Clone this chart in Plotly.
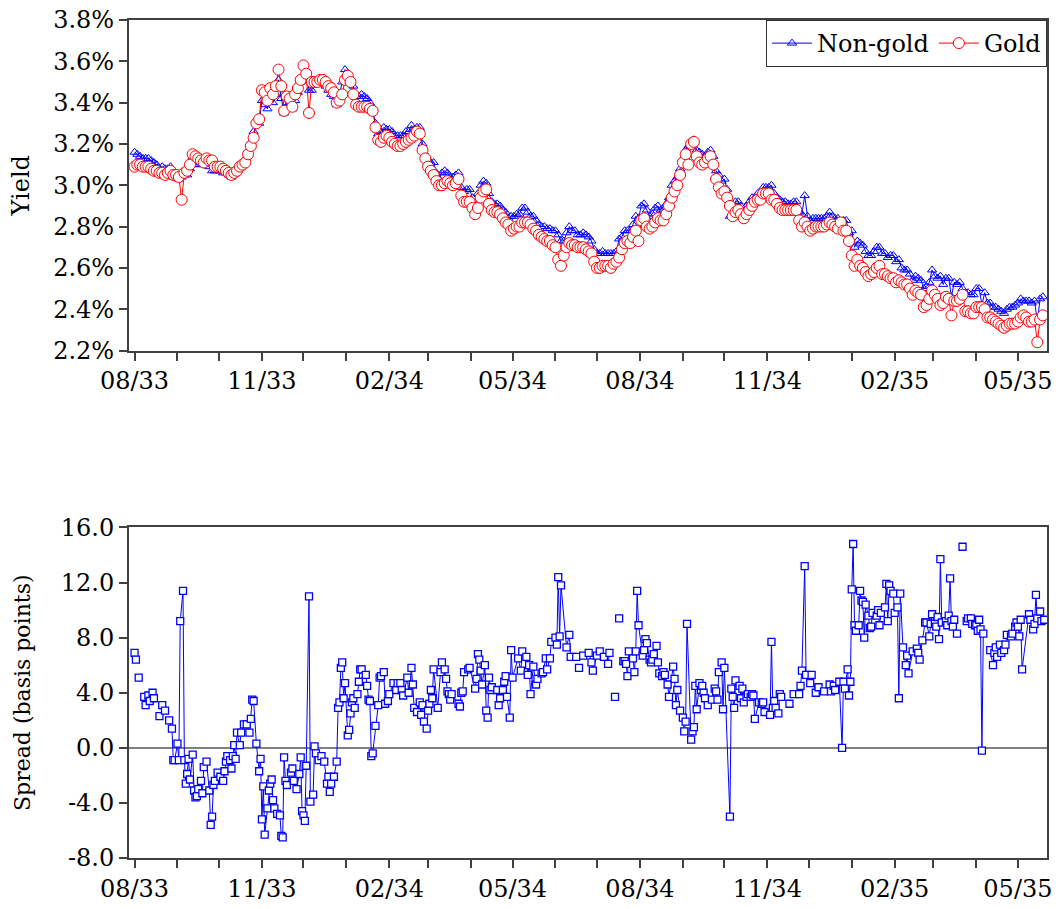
import pandas as pd
import plotly.graph_objects as go

# ---------------- data ----------------
BASE_DATE = "1933-08-01"   # day 0

# top panel: yields (%), sampled every second day since 1 Aug 1933
top_day = list(range(0, 657, 2))

gold_yield = [
    3.09, 3.10, 3.10, 3.09, 3.09, 3.09, 3.08, 3.07, 3.07, 3.06,
    3.06, 3.05, 3.06, 3.07, 3.05, 3.05, 3.04, 2.93, 3.06, 3.07,
    3.10, 3.15, 3.14, 3.13, 3.12, 3.11, 3.13, 3.12, 3.12, 3.09,
    3.09, 3.09, 3.08, 3.07, 3.06, 3.05, 3.06, 3.07, 3.09, 3.10,
    3.11, 3.15, 3.19, 3.23, 3.30, 3.32, 3.46, 3.45, 3.41, 3.47,
    3.44, 3.48, 3.56, 3.48, 3.36, 3.43, 3.42, 3.38, 3.44, 3.47,
    3.51, 3.58, 3.54, 3.35, 3.50, 3.50, 3.50, 3.51, 3.51, 3.50,
    3.48, 3.47, 3.45, 3.40, 3.41, 3.44, 3.51, 3.53, 3.50, 3.44,
    3.39, 3.38, 3.38, 3.38, 3.38, 3.37, 3.36, 3.28, 3.22, 3.21,
    3.23, 3.24, 3.23, 3.21, 3.20, 3.19, 3.19, 3.20, 3.21, 3.22,
    3.23, 3.24, 3.26, 3.25, 3.17, 3.13, 3.09, 3.07, 3.05, 3.02,
    3.00, 3.00, 3.01, 3.02, 3.01, 3.00, 3.01, 3.03, 2.95, 2.92,
    2.92, 2.92, 2.89, 2.86, 2.89, 2.94, 2.97, 2.98, 2.91, 2.88,
    2.87, 2.87, 2.86, 2.84, 2.82, 2.81, 2.78, 2.79, 2.80, 2.80,
    2.82, 2.82, 2.82, 2.81, 2.79, 2.78, 2.76, 2.75, 2.74, 2.73,
    2.73, 2.71, 2.70, 2.64, 2.61, 2.66, 2.70, 2.72, 2.71, 2.71,
    2.70, 2.70, 2.70, 2.69, 2.68, 2.67, 2.63, 2.60, 2.60, 2.61,
    2.61, 2.61, 2.60, 2.62, 2.63, 2.65, 2.69, 2.72, 2.73, 2.72,
    2.75, 2.78, 2.73, 2.83, 2.84, 2.80, 2.79, 2.80, 2.82, 2.84,
    2.83, 2.83, 2.86, 2.90, 2.94, 2.97, 3.00, 3.05, 3.11, 3.15,
    3.10, 3.20, 3.21, 3.14, 3.11, 3.10, 3.11, 3.13, 3.14, 3.10,
    3.03, 2.99, 2.96, 2.97, 2.94, 2.90, 2.85, 2.87, 2.88, 2.86,
    2.84, 2.86, 2.88, 2.90, 2.92, 2.93, 2.93, 2.96, 2.96, 2.96,
    2.93, 2.93, 2.91, 2.89, 2.88, 2.88, 2.88, 2.88, 2.88, 2.88,
    2.83, 2.80, 2.82, 2.80, 2.78, 2.79, 2.80, 2.80, 2.80, 2.80,
    2.81, 2.82, 2.81, 2.80, 2.79, 2.82, 2.78, 2.78, 2.73, 2.66,
    2.61, 2.64, 2.61, 2.60, 2.58, 2.56, 2.57, 2.58, 2.60, 2.61,
    2.57, 2.57, 2.56, 2.55, 2.55, 2.53, 2.54, 2.53, 2.52, 2.52,
    2.50, 2.47, 2.49, 2.48, 2.47, 2.41, 2.42, 2.45, 2.49, 2.47,
    2.45, 2.42, 2.43, 2.46, 2.45, 2.37, 2.44, 2.44, 2.45, 2.47,
    2.39, 2.39, 2.38, 2.38, 2.41, 2.41, 2.41, 2.40, 2.36, 2.36,
    2.35, 2.34, 2.33, 2.32, 2.31, 2.32, 2.33, 2.33, 2.33, 2.34,
    2.36, 2.37, 2.36, 2.34, 2.34, 2.35, 2.24, 2.35, 2.37]

nongold_yield = [
    3.16, 3.15, 3.14, 3.13, 3.13, 3.13, 3.12, 3.11, 3.10, 3.08,
    3.09, 3.08, 3.08, 3.09, 3.04, 3.05, 3.03, 3.04, 3.05, 3.05,
    3.08, 3.14, 3.10, 3.10, 3.10, 3.10, 3.12, 3.09, 3.07, 3.07,
    3.07, 3.07, 3.06, 3.06, 3.05, 3.04, 3.06, 3.08, 3.09, 3.11,
    3.13, 3.16, 3.21, 3.26, 3.30, 3.30, 3.41, 3.39, 3.37, 3.44,
    3.40, 3.44, 3.51, 3.42, 3.35, 3.40, 3.40, 3.37, 3.41, 3.45,
    3.50, 3.53, 3.53, 3.46, 3.46, 3.50, 3.49, 3.50, 3.50, 3.48,
    3.46, 3.44, 3.43, 3.39, 3.44, 3.50, 3.56, 3.54, 3.52, 3.48,
    3.43, 3.43, 3.44, 3.43, 3.42, 3.40, 3.36, 3.30, 3.25, 3.26,
    3.28, 3.27, 3.27, 3.26, 3.24, 3.24, 3.24, 3.24, 3.26, 3.26,
    3.29, 3.27, 3.28, 3.28, 3.20, 3.15, 3.12, 3.11, 3.11, 3.06,
    3.03, 3.06, 3.07, 3.06, 3.04, 3.04, 3.05, 3.06, 2.99, 2.97,
    2.98, 2.98, 2.94, 2.90, 2.96, 3.00, 3.02, 3.01, 2.96, 2.92,
    2.91, 2.91, 2.90, 2.88, 2.87, 2.84, 2.85, 2.85, 2.86, 2.86,
    2.89, 2.89, 2.87, 2.85, 2.85, 2.83, 2.81, 2.80, 2.80, 2.79,
    2.79, 2.78, 2.78, 2.76, 2.73, 2.73, 2.77, 2.80, 2.78, 2.78,
    2.76, 2.76, 2.77, 2.76, 2.75, 2.73, 2.69, 2.67, 2.67, 2.68,
    2.67, 2.67, 2.67, 2.67, 2.68, 2.74, 2.75, 2.78, 2.78, 2.78,
    2.81, 2.85, 2.84, 2.90, 2.91, 2.88, 2.85, 2.86, 2.89, 2.90,
    2.88, 2.88, 2.91, 2.94, 3.00, 3.02, 3.04, 3.08, 3.13, 3.17,
    3.19, 3.21, 3.22, 3.17, 3.16, 3.15, 3.14, 3.16, 3.17, 3.14,
    3.07, 3.05, 3.02, 3.03, 2.98, 2.85, 2.89, 2.92, 2.92, 2.90,
    2.87, 2.90, 2.92, 2.94, 2.94, 2.96, 2.96, 2.99, 2.99, 2.99,
    3.00, 2.96, 2.94, 2.93, 2.92, 2.92, 2.91, 2.91, 2.92, 2.92,
    2.87, 2.86, 2.95, 2.85, 2.83, 2.84, 2.84, 2.84, 2.84, 2.84,
    2.85, 2.87, 2.85, 2.84, 2.84, 2.82, 2.83, 2.83, 2.77, 2.78,
    2.70, 2.73, 2.72, 2.71, 2.68, 2.66, 2.66, 2.68, 2.70, 2.70,
    2.67, 2.67, 2.65, 2.66, 2.66, 2.63, 2.64, 2.60, 2.59, 2.59,
    2.57, 2.54, 2.56, 2.55, 2.54, 2.50, 2.51, 2.53, 2.59, 2.56,
    2.55, 2.56, 2.52, 2.55, 2.55, 2.46, 2.53, 2.52, 2.53, 2.50,
    2.48, 2.48, 2.47, 2.47, 2.50, 2.50, 2.42, 2.48, 2.43, 2.43,
    2.41, 2.41, 2.40, 2.39, 2.38, 2.40, 2.41, 2.41, 2.42, 2.43,
    2.45, 2.44, 2.44, 2.44, 2.43, 2.44, 2.34, 2.45, 2.46]

# bottom panel: spread (basis points), days since 1 Aug 1933
spread_day = [0, 1, 3, 7, 8, 10, 11, 13, 14, 18, 20, 22,
              25, 27, 28, 29, 31, 32, 33, 35, 36, 37, 38, 39, 40, 42, 43, 44, 45, 46, 48, 49, 50, 52, 54, 55, 56, 57, 58, 60,
              62, 64, 65, 66, 67, 69, 70, 71, 72, 73, 74, 76, 77, 79, 81, 83, 84, 85, 86, 88,
              90, 91, 92, 93, 94, 96, 97, 98, 99, 100, 101, 103, 105, 106, 107,
              108, 109, 110, 113, 114, 115, 117, 119, 120, 121, 122, 123, 124, 126, 127, 129, 130, 131, 133, 135,
              137, 139, 140, 141, 142, 144, 146, 147, 148, 149, 150, 151, 152, 154, 155, 156, 157, 158, 159, 161,
              162, 163, 164, 167, 168, 169, 170, 171, 172, 174, 176, 177, 178, 180, 181, 183, 184, 187, 189, 190,
              192, 193, 194, 197, 198, 200, 201, 202, 204, 206, 207, 208, 209, 211, 212, 213, 214, 215, 216, 219,
              221, 222, 224, 225, 226, 227, 228, 229, 234, 235, 236, 237, 238, 241, 242, 246, 247, 248, 249, 250,
              251, 253, 254, 255, 256, 257, 258, 262, 263, 264, 266, 267, 268, 269, 271, 272, 273, 277, 279, 280,
              283, 284, 285, 286, 288, 290, 291, 294, 295, 297, 298, 300, 301, 304, 305, 306, 307, 308, 312, 314,
              315, 319, 321, 324, 328, 330, 331, 334, 336, 339, 342, 343, 347, 350, 353, 354, 355, 356, 357, 360,
              361, 362, 363, 364, 367, 368, 369, 370, 372, 373, 374, 375, 377, 378, 379, 381, 382, 383, 385, 386,
              389, 390, 391, 392, 394, 396, 397, 398, 399, 402, 403, 404, 405, 406, 408, 409, 410, 411, 412, 414,
              417, 419, 420, 421, 422, 424, 425, 426, 430, 431, 432, 433, 434, 437, 438, 439, 440, 442, 443, 445,
              446, 447, 448, 451, 453, 454, 455, 459, 460, 461, 462, 463, 465, 466, 467, 473, 476, 480, 481, 482,
              484, 485, 488, 489, 492, 494, 498, 502, 503, 505, 506, 509, 511, 512, 513, 515, 516, 517, 518, 519,
              520, 521, 523, 524, 525, 526, 527, 528, 530, 531, 532, 533, 536, 537, 538, 539, 542, 543, 544, 545,
              546, 548, 549, 551, 552, 553, 555, 557, 558, 559, 562, 565, 566, 567, 569, 571, 572, 574, 575, 576,
              578, 579, 580, 581, 582, 583, 586, 587, 588, 589, 590, 591, 592, 594, 598, 601, 602, 604, 605, 607,
              608, 609, 610, 611, 612, 613, 618, 620, 621, 622, 623, 625, 626, 628, 629, 630, 633, 634, 636, 637,
              638, 639, 640, 641, 646, 647, 649, 650, 651, 652, 654, 655, 657]

spread_bp = [6.9, 6.4, 5.1, 3.7, 3.1, 3.8, 3.4, 4.0, 3.6, 2.3, 3.1, 2.7,
             2.0, 1.4, -0.9, -0.9, 0.3, -0.9, 9.2, 11.4, -0.9, -2.6, -1.9, -0.8, -2.3, -0.5, -3.1, -3.6, -3.5, -3.0, -2.4, -3.3, -1.4, -1.0, -3.1, -5.6, -5.0, -2.7, -2.4, -1.8,
             -2.1, -2.4, -1.7, -1.0, -0.6, -0.9, -1.5, -0.6, 0.2, -0.8, 1.1, 0.2, 1.1, 1.7, 1.7, 1.1, 2.1, 3.5, 3.4, 0.3,
             -1.7, -0.8, -5.2, -2.8, -6.3, -4.4, -3.1, -2.6, -2.3, -3.8, -4.4, -4.8, -4.9, -6.4, -6.5,
             -0.7, -2.4, -2.7, -1.8, -1.5, -2.4, -3.0, -1.9, -0.7, -4.6, -4.9, -5.3, -1.3, 11.0, -3.9, -3.4, 0.1, -0.4, -0.9, -0.6,
             -1.0, -2.6, -2.1, -3.2, -2.6, -2.1, -1.0, 2.9, 3.3, 5.8, 6.2, 3.6, 4.7, 0.9, 1.3, 2.5, 3.3, 3.6, 2.9, 3.9,
             4.8, 5.7, 5.7, 5.3, 4.5, 3.5, 3.4, -0.6, -0.4, 1.6, 3.1, 5.1, 5.2, 5.5, 3.2, 3.4, 3.9, 4.7, 4.2, 4.7,
             4.7, 4.2, 3.8, 5.1, 4.0, 5.8, 4.6, 2.9, 2.6, 3.3, 2.4, 3.1, 1.9, 1.4, 2.7, 3.2, 4.2, 3.6, 5.7, 2.9,
             5.5, 6.2, 5.7, 5.0, 4.1, 3.9, 3.5, 3.9, 3.2, 3.0, 4.0, 4.1, 5.5, 5.7, 5.8, 4.3, 5.0, 6.8, 6.4, 5.6,
             4.6, 6.0, 2.7, 2.2, 5.1, 4.2, 4.4, 4.2, 3.1, 3.6, 4.2, 4.8, 5.2, 3.7, 2.2, 7.1, 5.1, 6.5, 5.6, 7.0,
             6.6, 5.3, 6.0, 3.9, 5.9, 4.6, 5.0, 5.4, 5.5, 6.5, 5.7, 6.5, 7.7, 8.0, 7.5, 12.4, 8.1, 11.8, 7.3, 8.2,
             6.6, 6.6, 5.8, 6.7, 6.9, 6.2, 5.6, 6.7, 7.0, 6.6, 6.1, 6.9, 3.7, 9.4, 6.3, 6.3, 6.1, 5.2, 7.0, 6.5,
             5.5, 7.0, 11.4, 8.9, 6.7, 7.1, 7.9, 7.6, 6.4, 6.2, 6.4, 6.8, 7.4, 6.2, 5.4, 5.2, 5.5, 5.3, 4.6, 3.7,
             5.9, 5.0, 3.1, 4.2, 2.7, 2.2, 1.2, 1.9, 9.0, 0.6, 1.2, 1.5, 4.5, 2.8, 4.7, 4.2, 4.5, 4.0, 3.6, 3.1,
             3.5, 4.3, 4.1, 3.5, 5.5, 6.2, 2.8, 5.8, -5.0, 4.3, 3.7, 2.9, 4.9, 4.5, 3.6, 4.3, 3.3, 3.7, 3.9, 3.7,
             3.9, 3.8, 2.1, 3.3, 3.2, 3.3, 2.6, 2.4, 7.7, 2.9, 3.4, 2.9, 2.5, 3.9, 3.7, 3.2, 3.9, 3.9, 4.5, 5.6,
             13.2, 5.3, 4.7, 5.3, 4.0, 4.4, 4.1, 4.6, 4.1, 4.5, 4.2, 4.8, 0.0, 4.8, 4.3, 5.7, 3.8, 4.8, 11.5, 14.8,
             8.9, 8.5, 8.9, 11.4, 10.7, 10.6, 8.0, 10.4, 9.6, 8.7, 8.8, 9.8, 9.6, 10.0, 8.9, 9.8, 10.2, 11.9, 9.2, 11.8,
             11.4, 11.2, 9.8, 10.2, 3.6, 11.2, 7.3, 6.0, 6.7, 5.4, 7.0, 7.2, 6.9, 6.4, 7.8, 9.1, 9.1, 8.1, 9.0, 9.7,
             9.0, 8.8, 9.5, 7.9, 13.7, 9.1, 9.2, 8.9, 9.6, 12.3, 9.2, 8.8, 9.3, 8.3, 14.6, 9.2, 9.4, 9.4, 9.0, 8.9,
             8.9, 8.5, 9.3, 8.6, -0.2, 8.3, 7.1, 6.0, 6.9, 7.3, 6.6, 7.5, 6.9, 7.1, 7.5, 8.2, 8.1, 8.3, 8.8, 9.1,
             8.8, 8.1, 9.3, 5.7, 9.7, 9.3, 8.6, 9.0, 11.1, 9.4, 9.9, 9.2, 9.3]

# days after which the spread line is broken (missing observations)
spread_breaks_after = [0, 1, 3, 7, 8, 10, 11, 13, 14, 18, 20, 22,
                       319, 321, 343, 347, 350, 467, 473, 594, 598, 613]

month_ticks = pd.date_range("1933-08-01", "1935-05-01", freq="MS")
yield_ticks = [2.2, 2.4, 2.6, 2.8, 3.0, 3.2, 3.4, 3.6, 3.8]
spread_ticks = [-8.0, -4.0, 0.0, 4.0, 8.0, 12.0, 16.0]

assert len(top_day) == len(gold_yield) == len(nongold_yield), (len(top_day), len(gold_yield), len(nongold_yield))
assert len(spread_day) == len(spread_bp)

# ---------------- build ----------------
base = pd.Timestamp(BASE_DATE)
top_dates = base + pd.to_timedelta(top_day, unit="D")

sx, sy = [], []
for d, v in zip(spread_day, spread_bp):
    sx.append(base + pd.Timedelta(days=d))
    sy.append(v)
    if d in spread_breaks_after:
        sx.append(base + pd.Timedelta(days=d))
        sy.append(None)

FONT = "DejaVu Serif"
AX = "#404040"

fig = go.Figure()
fig.add_trace(go.Scatter(
    x=top_dates, y=nongold_yield, name="Non-gold", mode="lines+markers",
    line=dict(color="#0000ff", width=1),
    marker=dict(symbol="triangle-up-open", size=8, color="#0000ff", line=dict(width=1)),
    xaxis="x", yaxis="y"))
fig.add_trace(go.Scatter(
    x=top_dates, y=gold_yield, name="Gold", mode="lines+markers",
    line=dict(color="#ff0000", width=1),
    marker=dict(symbol="circle", size=11, color="white", line=dict(color="#ff0000", width=1)),
    xaxis="x", yaxis="y"))
fig.add_trace(go.Scatter(
    x=sx, y=sy, name="Spread", mode="lines+markers", showlegend=False, connectgaps=False,
    line=dict(color="#0000ff", width=1),
    marker=dict(symbol="square", size=7, color="white", line=dict(color="#0000ff", width=1.3)),
    xaxis="x2", yaxis="y2"))

ticktext = [d.strftime("%m/%y") if i % 3 == 0 else "" for i, d in enumerate(month_ticks)]
xcommon = dict(
    type="date", range=["1933-07-28", "1935-05-22"],
    tickmode="array", tickvals=list(month_ticks), ticktext=ticktext,
    ticks="outside", ticklen=8, tickwidth=1.5, tickcolor=AX,
    showline=True, linecolor=AX, linewidth=2, mirror=True,
    showgrid=False, zeroline=False,
    tickfont=dict(family=FONT, size=24, color="black"),
)
ycommon = dict(
    ticks="outside", ticklen=8, tickwidth=1.5, tickcolor=AX,
    showline=True, linecolor=AX, linewidth=2, mirror=True,
    showgrid=False,
    tickfont=dict(family=FONT, size=24, color="black"),
)

fig.update_layout(
    width=1058, height=909,
    margin=dict(l=129, r=6, t=16, b=41),
    paper_bgcolor="white", plot_bgcolor="white",
    font=dict(family=FONT, color="black"),
    showlegend=True,
    legend=dict(orientation="h", x=1, y=1, xanchor="right", yanchor="top",
                bgcolor="white", bordercolor="#333333", borderwidth=1,
                font=dict(family=FONT, size=24, color="black"),
                itemwidth=40, tracegroupgap=0),
    xaxis=dict(domain=[0, 1], anchor="y", **xcommon),
    yaxis=dict(domain=[0.6056, 1], anchor="x", range=[2.2, 3.8],
               tickmode="array", tickvals=yield_ticks,
               ticktext=[f"{v:.1f}%" for v in yield_ticks],
               zeroline=False,
               title=dict(text="Yield", font=dict(family=FONT, size=24), standoff=17),
               **ycommon),
    xaxis2=dict(domain=[0, 1], anchor="y2", **xcommon),
    yaxis2=dict(domain=[0, 0.3944], anchor="x2", range=[-8, 16],
                tickmode="array", tickvals=spread_ticks,
                ticktext=[f"{v:.1f}" for v in spread_ticks],
                zeroline=True, zerolinecolor="#808080", zerolinewidth=2,
                title=dict(text="Spread (basis points)", font=dict(family=FONT, size=22), standoff=24),
                **ycommon),
    hovermode=False,
)

fig.write_html("out.html")
